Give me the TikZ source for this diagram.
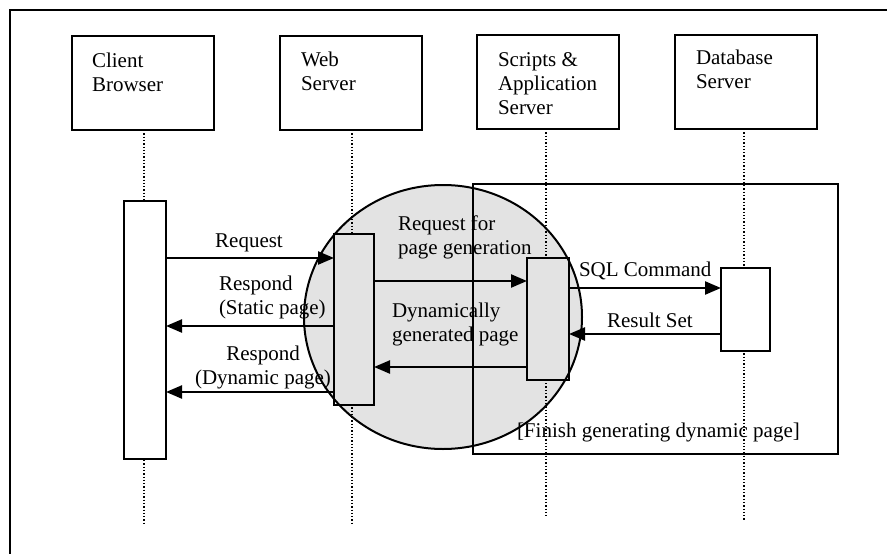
\documentclass[tikz,border=0pt]{standalone}
\usepackage{fontspec}
\setmainfont{Liberation Serif}
\usetikzlibrary{arrows.meta,calc}
\tikzset{
  lbl/.style={font=\fontsize{21}{24}\selectfont, inner sep=0pt, outer sep=0pt},
  hdrbox/.style={draw, line width=2pt, minimum width=142pt, minimum height=94pt, inner sep=0pt, outer sep=0pt},
  actbox/.style={draw, fill=white, line width=2pt, inner sep=0pt, outer sep=0pt},
  lifeline/.style={dotted, line width=1.3pt},
  msg/.style={line width=2.3pt, -{Triangle[length=16pt,width=13pt]}},
}
\begin{document}
\begin{tikzpicture}[x=1pt,y=-1pt]
\useasboundingbox (0,0) rectangle (887,554);
% outer frame
\draw[line width=2.5pt] (10,600) -- (10,10) -- (950,10);
% header boxes
\node[hdrbox] (cb) at (143,83) {};
\node[hdrbox] (ws) at (351,83) {};
\node[hdrbox] (sv) at (548,82) {};
\node[hdrbox] (db) at (746,82) {};
% lifelines
\coordinate (cbend) at (144,525);
\coordinate (wsend) at (352,525);
\coordinate (svend) at (546,516);
\coordinate (dbend) at (744,520);
\draw[lifeline] (cb.south -| cbend) -- (cbend);
\draw[lifeline] (ws.south -| wsend) -- (wsend);
\draw[lifeline] (sv.south -| svend) -- (svend);
\draw[lifeline] (db.south -| dbend) -- (dbend);
% frame fragment
\node[draw, line width=2pt, minimum width=365pt, minimum height=270pt, inner sep=0pt] (frag) at (655.5,319) {};
% activation boxes
\node[actbox, minimum width=42pt, minimum height=258pt] (ca) at (145,330) {};
\node[actbox, minimum width=40pt, minimum height=171pt] (wa) at (354,319.5) {};
\node[actbox, minimum width=42pt, minimum height=122pt] (sa) at (548,319) {};
\node[actbox, minimum width=49pt, minimum height=83pt] (da) at (745.5,309.5) {};
% messages
\draw[msg] ($(ca.east |- 0,258)$) -- ($(wa.west |- 0,258)$);
\draw[msg] ($(wa.west |- 0,326)$) -- ($(ca.east |- 0,326)$);
\draw[msg] ($(wa.west |- 0,392)$) -- ($(ca.east |- 0,392)$);
\draw[msg] ($(wa.east |- 0,281)$) -- ($(sa.west |- 0,281)$);
\draw[msg] ($(sa.west |- 0,367)$) -- ($(wa.east |- 0,367)$);
\draw[msg] ($(sa.east |- 0,288)$) -- ($(da.west |- 0,288)$);
\draw[msg] ($(da.west |- 0,334)$) -- ($(sa.east |- 0,334)$);
% header texts (base anchor = baseline of last line)
\node[lbl, anchor=base west, align=left] (t1) at (92,91) {Client\\Browser};
\node[lbl, anchor=base west, align=left] (t2) at (301,90) {Web\\Server};
\node[lbl, anchor=base west, align=left] (t3) at (498,114) {Scripts \&\\Application\\Server};
\node[lbl, anchor=base west, align=left] (t4) at (696,88) {Database\\Server};
% message texts
\node[lbl, anchor=base] (m1) at (249,247) {Request};
\node[lbl, anchor=base west, align=left] (m2) at (219,314) {Respond\\(Static page)};
\node[lbl, anchor=base, align=center] (m3) at (263,384) {Respond\\(Dynamic page)};
\node[lbl, anchor=base west, align=left] (m4) at (398,254) {Request for\\page generation};
\node[lbl, anchor=base west, align=left] (m5) at (392,341) {Dynamically\\generated page};
\node[lbl, anchor=base west] (m6) at (579,276) {SQL Command};
\node[lbl, anchor=base west] (m7) at (607,327) {Result Set};
\node[lbl, anchor=base west] (m8) at (517,437) {[Finish generating dynamic page]};
% shaded circle overlay
\draw[line width=2pt, fill=black, fill opacity=0.11] (443,317) ellipse [x radius=139, y radius=132];
\end{tikzpicture}
\end{document}
